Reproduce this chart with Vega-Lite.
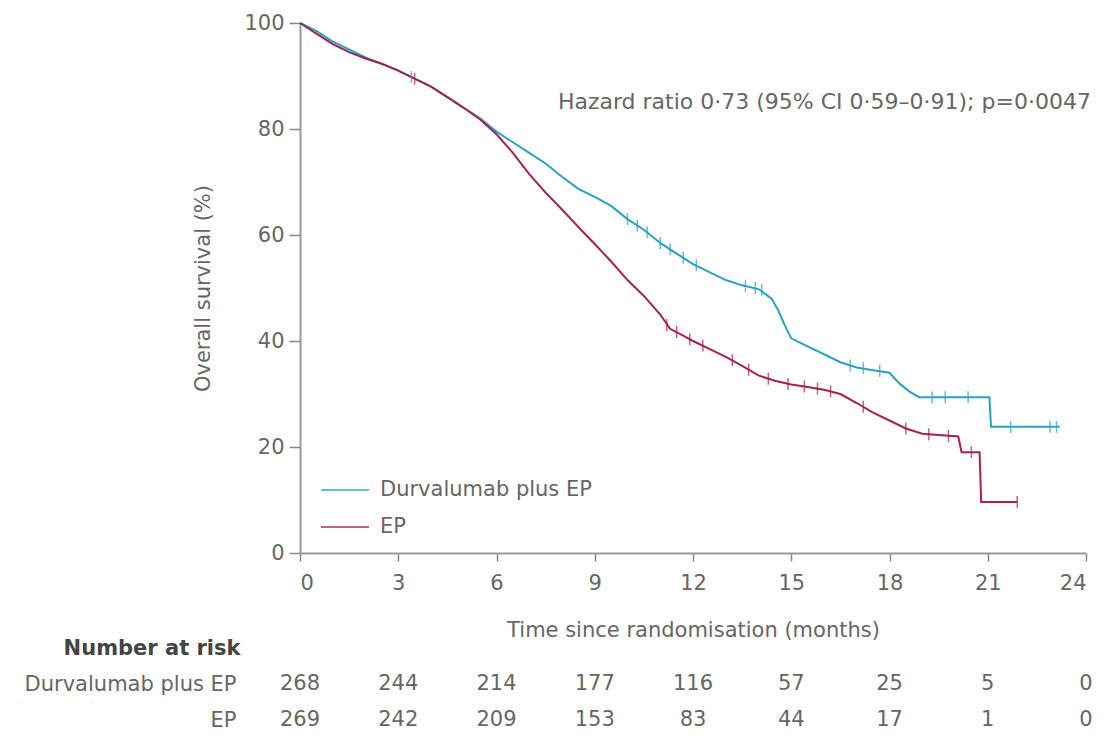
{
  "$schema": "https://vega.github.io/schema/vega-lite/v6.json",
  "padding": {"top": 12, "left": 24, "right": 5, "bottom": 4},
  "background": "white",
  "bounds": "flush",
  "spacing": 131,
  "config": {
    "view": {"stroke": null},
    "font": "DejaVu Sans",
    "axis": {"labelFont": "DejaVu Sans", "titleFont": "DejaVu Sans", "labelColor": "#666", "titleColor": "#666", "labelFontSize": 21, "titleFontSize": 21, "titleFontWeight": "normal", "domainColor": "#999", "tickColor": "#888", "domainWidth": 2, "tickWidth": 1.5, "grid": false},
    "legend": {"labelFont": "DejaVu Sans", "labelColor": "#666", "labelFontSize": 21}
  },
  "datasets": {
    "km": [
      {"arm": "Durvalumab plus EP", "month": 0, "surv": 100},
      {"arm": "Durvalumab plus EP", "month": 0.5, "surv": 98.5},
      {"arm": "Durvalumab plus EP", "month": 1.0, "surv": 96.5},
      {"arm": "Durvalumab plus EP", "month": 1.5, "surv": 95},
      {"arm": "Durvalumab plus EP", "month": 2.0, "surv": 93.5},
      {"arm": "Durvalumab plus EP", "month": 2.5, "surv": 92.3},
      {"arm": "Durvalumab plus EP", "month": 3.0, "surv": 91},
      {"arm": "Durvalumab plus EP", "month": 3.5, "surv": 89.5},
      {"arm": "Durvalumab plus EP", "month": 4.0, "surv": 88},
      {"arm": "Durvalumab plus EP", "month": 4.5, "surv": 86},
      {"arm": "Durvalumab plus EP", "month": 5.0, "surv": 84},
      {"arm": "Durvalumab plus EP", "month": 5.5, "surv": 82},
      {"arm": "Durvalumab plus EP", "month": 6.0, "surv": 79.5},
      {"arm": "Durvalumab plus EP", "month": 6.5, "surv": 77.5},
      {"arm": "Durvalumab plus EP", "month": 7.0, "surv": 75.5},
      {"arm": "Durvalumab plus EP", "month": 7.5, "surv": 73.5},
      {"arm": "Durvalumab plus EP", "month": 8.0, "surv": 71},
      {"arm": "Durvalumab plus EP", "month": 8.5, "surv": 68.7},
      {"arm": "Durvalumab plus EP", "month": 9.0, "surv": 67.2},
      {"arm": "Durvalumab plus EP", "month": 9.5, "surv": 65.5},
      {"arm": "Durvalumab plus EP", "month": 10.0, "surv": 63},
      {"arm": "Durvalumab plus EP", "month": 10.5, "surv": 61},
      {"arm": "Durvalumab plus EP", "month": 11.0, "surv": 58.5},
      {"arm": "Durvalumab plus EP", "month": 11.5, "surv": 56.5},
      {"arm": "Durvalumab plus EP", "month": 12.0, "surv": 54.5},
      {"arm": "Durvalumab plus EP", "month": 12.5, "surv": 53},
      {"arm": "Durvalumab plus EP", "month": 13.0, "surv": 51.5},
      {"arm": "Durvalumab plus EP", "month": 13.5, "surv": 50.5},
      {"arm": "Durvalumab plus EP", "month": 14.0, "surv": 49.8},
      {"arm": "Durvalumab plus EP", "month": 14.4, "surv": 48},
      {"arm": "Durvalumab plus EP", "month": 14.6, "surv": 45.8},
      {"arm": "Durvalumab plus EP", "month": 14.8, "surv": 43},
      {"arm": "Durvalumab plus EP", "month": 15.0, "surv": 40.5},
      {"arm": "Durvalumab plus EP", "month": 15.5, "surv": 39},
      {"arm": "Durvalumab plus EP", "month": 16.0, "surv": 37.5},
      {"arm": "Durvalumab plus EP", "month": 16.5, "surv": 36},
      {"arm": "Durvalumab plus EP", "month": 17.0, "surv": 35},
      {"arm": "Durvalumab plus EP", "month": 17.5, "surv": 34.5},
      {"arm": "Durvalumab plus EP", "month": 18.0, "surv": 34},
      {"arm": "Durvalumab plus EP", "month": 18.3, "surv": 32},
      {"arm": "Durvalumab plus EP", "month": 18.6, "surv": 30.5},
      {"arm": "Durvalumab plus EP", "month": 18.9, "surv": 29.4},
      {"arm": "Durvalumab plus EP", "month": 21.05, "surv": 29.4},
      {"arm": "Durvalumab plus EP", "month": 21.1, "surv": 23.8},
      {"arm": "Durvalumab plus EP", "month": 23.2, "surv": 23.8},
      {"arm": "EP", "month": 0, "surv": 100},
      {"arm": "EP", "month": 0.5, "surv": 98},
      {"arm": "EP", "month": 1.0, "surv": 96},
      {"arm": "EP", "month": 1.5, "surv": 94.5},
      {"arm": "EP", "month": 2.0, "surv": 93.3},
      {"arm": "EP", "month": 2.5, "surv": 92.3},
      {"arm": "EP", "month": 3.0, "surv": 91},
      {"arm": "EP", "month": 3.5, "surv": 89.5},
      {"arm": "EP", "month": 4.0, "surv": 88},
      {"arm": "EP", "month": 4.5, "surv": 86},
      {"arm": "EP", "month": 5.0, "surv": 84},
      {"arm": "EP", "month": 5.5, "surv": 81.8},
      {"arm": "EP", "month": 6.0, "surv": 79},
      {"arm": "EP", "month": 6.5, "surv": 75.5},
      {"arm": "EP", "month": 7.0, "surv": 71.5},
      {"arm": "EP", "month": 7.5, "surv": 68},
      {"arm": "EP", "month": 8.0, "surv": 64.8},
      {"arm": "EP", "month": 8.5, "surv": 61.5},
      {"arm": "EP", "month": 9.0, "surv": 58.3},
      {"arm": "EP", "month": 9.5, "surv": 55},
      {"arm": "EP", "month": 10.0, "surv": 51.5},
      {"arm": "EP", "month": 10.5, "surv": 48.5},
      {"arm": "EP", "month": 11.0, "surv": 45},
      {"arm": "EP", "month": 11.3, "surv": 42.3},
      {"arm": "EP", "month": 11.7, "surv": 41},
      {"arm": "EP", "month": 12.0, "surv": 40},
      {"arm": "EP", "month": 12.5, "surv": 38.5},
      {"arm": "EP", "month": 13.0, "surv": 37},
      {"arm": "EP", "month": 13.5, "surv": 35.3},
      {"arm": "EP", "month": 14.0, "surv": 33.5},
      {"arm": "EP", "month": 14.5, "surv": 32.5},
      {"arm": "EP", "month": 15.0, "surv": 31.8},
      {"arm": "EP", "month": 15.5, "surv": 31.3},
      {"arm": "EP", "month": 16.0, "surv": 30.8},
      {"arm": "EP", "month": 16.5, "surv": 30},
      {"arm": "EP", "month": 17.0, "surv": 28.3},
      {"arm": "EP", "month": 17.5, "surv": 26.5},
      {"arm": "EP", "month": 18.0, "surv": 25},
      {"arm": "EP", "month": 18.5, "surv": 23.5},
      {"arm": "EP", "month": 19.0, "surv": 22.5},
      {"arm": "EP", "month": 20.1, "surv": 22},
      {"arm": "EP", "month": 20.2, "surv": 19},
      {"arm": "EP", "month": 20.75, "surv": 19},
      {"arm": "EP", "month": 20.8, "surv": 9.6},
      {"arm": "EP", "month": 21.9, "surv": 9.6}
    ],
    "censor": [
      {"arm": "Durvalumab plus EP", "month": 3.4, "surv": 89.8},
      {"arm": "Durvalumab plus EP", "month": 10.0, "surv": 63},
      {"arm": "Durvalumab plus EP", "month": 10.3, "surv": 61.8},
      {"arm": "Durvalumab plus EP", "month": 10.6, "surv": 60.5},
      {"arm": "Durvalumab plus EP", "month": 11.0, "surv": 58.5},
      {"arm": "Durvalumab plus EP", "month": 11.3, "surv": 57.3},
      {"arm": "Durvalumab plus EP", "month": 11.7, "surv": 55.7},
      {"arm": "Durvalumab plus EP", "month": 12.1, "surv": 54.3},
      {"arm": "Durvalumab plus EP", "month": 13.6, "surv": 50.4},
      {"arm": "Durvalumab plus EP", "month": 13.9, "surv": 50},
      {"arm": "Durvalumab plus EP", "month": 14.1, "surv": 49.6},
      {"arm": "Durvalumab plus EP", "month": 16.8, "surv": 35.4},
      {"arm": "Durvalumab plus EP", "month": 17.2, "surv": 34.9},
      {"arm": "Durvalumab plus EP", "month": 17.7, "surv": 34.4},
      {"arm": "Durvalumab plus EP", "month": 19.3, "surv": 29.4},
      {"arm": "Durvalumab plus EP", "month": 19.7, "surv": 29.4},
      {"arm": "Durvalumab plus EP", "month": 20.4, "surv": 29.4},
      {"arm": "Durvalumab plus EP", "month": 21.7, "surv": 23.8},
      {"arm": "Durvalumab plus EP", "month": 22.9, "surv": 23.8},
      {"arm": "Durvalumab plus EP", "month": 23.1, "surv": 23.8},
      {"arm": "EP", "month": 3.5, "surv": 89.5},
      {"arm": "EP", "month": 11.2, "surv": 43},
      {"arm": "EP", "month": 11.5, "surv": 41.7},
      {"arm": "EP", "month": 11.9, "surv": 40.3},
      {"arm": "EP", "month": 12.3, "surv": 39.1},
      {"arm": "EP", "month": 13.2, "surv": 36.4},
      {"arm": "EP", "month": 13.7, "surv": 34.6},
      {"arm": "EP", "month": 14.3, "surv": 32.9},
      {"arm": "EP", "month": 14.9, "surv": 31.9},
      {"arm": "EP", "month": 15.4, "surv": 31.4},
      {"arm": "EP", "month": 15.8, "surv": 31},
      {"arm": "EP", "month": 16.2, "surv": 30.5},
      {"arm": "EP", "month": 17.2, "surv": 27.6},
      {"arm": "EP", "month": 18.5, "surv": 23.5},
      {"arm": "EP", "month": 19.2, "surv": 22.4},
      {"arm": "EP", "month": 19.8, "surv": 22.1},
      {"arm": "EP", "month": 20.5, "surv": 19},
      {"arm": "EP", "month": 21.9, "surv": 9.6}
    ],
    "risk": [
      {"arm": "Durvalumab plus EP", "month": 0, "n": 268},
      {"arm": "Durvalumab plus EP", "month": 3, "n": 244},
      {"arm": "Durvalumab plus EP", "month": 6, "n": 214},
      {"arm": "Durvalumab plus EP", "month": 9, "n": 177},
      {"arm": "Durvalumab plus EP", "month": 12, "n": 116},
      {"arm": "Durvalumab plus EP", "month": 15, "n": 57},
      {"arm": "Durvalumab plus EP", "month": 18, "n": 25},
      {"arm": "Durvalumab plus EP", "month": 21, "n": 5},
      {"arm": "Durvalumab plus EP", "month": 24, "n": 0},
      {"arm": "EP", "month": 0, "n": 269},
      {"arm": "EP", "month": 3, "n": 242},
      {"arm": "EP", "month": 6, "n": 209},
      {"arm": "EP", "month": 9, "n": 153},
      {"arm": "EP", "month": 12, "n": 83},
      {"arm": "EP", "month": 15, "n": 44},
      {"arm": "EP", "month": 18, "n": 17},
      {"arm": "EP", "month": 21, "n": 1},
      {"arm": "EP", "month": 24, "n": 0}
    ]
  },
  "vconcat": [
    {
      "width": 786,
      "height": 530,
      "layer": [
        {
          "data": {"name": "km"},
          "mark": {"type": "line", "strokeWidth": 2, "interpolate": "linear"},
          "encoding": {
            "x": {"field": "month", "type": "quantitative", "scale": {"domain": [0, 24], "nice": false},
                  "axis": {"values": [0, 3, 6, 9, 12, 15, 18, 21, 24], "title": "Time since randomisation (months)", "tickSize": 8, "labelPadding": 11, "titlePadding": 26}},
            "y": {"field": "surv", "type": "quantitative", "scale": {"domain": [0, 100], "nice": false},
                  "axis": {"values": [0, 20, 40, 60, 80, 100], "title": "Overall survival (%)", "tickSize": 11, "labelPadding": 5, "titlePadding": 30}},
            "color": {"field": "arm", "type": "nominal",
                      "scale": {"domain": ["Durvalumab plus EP", "EP"], "range": ["#27a4c2", "#a8214f"]},
                      "legend": {"title": null, "orient": "none", "legendX": 20, "legendY": 442, "symbolType": "stroke", "symbolSize": 2300, "symbolStrokeWidth": 2, "rowPadding": 2, "labelOffset": 10, "labelLimit": 500}}
          }
        },
        {
          "data": {"name": "censor"},
          "mark": {"type": "tick", "orient": "vertical", "size": 12, "thickness": 1.5},
          "encoding": {
            "x": {"field": "month", "type": "quantitative"},
            "y": {"field": "surv", "type": "quantitative"},
            "color": {"field": "arm", "type": "nominal"}
          }
        },
        {
          "data": {"values": [{}]},
          "mark": {"type": "text", "align": "right", "baseline": "middle", "fontSize": 22, "color": "#666", "text": "Hazard ratio 0·73 (95% CI 0·59–0·91); p=0·0047"},
          "encoding": {
            "x": {"datum": 24.15},
            "y": {"datum": 85.1}
          }
        }
      ]
    },
    {
      "width": 786,
      "height": 36,
      "data": {"name": "risk"},
      "mark": {"type": "text", "fontSize": 21, "color": "#666", "baseline": "middle"},
      "encoding": {
        "x": {"field": "month", "type": "quantitative", "scale": {"domain": [0, 24], "nice": false}, "axis": null},
        "y": {"field": "arm", "type": "nominal", "sort": ["Durvalumab plus EP", "EP"], "scale": {"type": "point", "padding": 0},
              "axis": {"title": "Number at risk", "titleAngle": 0, "titleAlign": "right", "titleBaseline": "middle", "titleX": -60, "titleY": -36, "titleFontWeight": "bold", "titleColor": "#444", "domain": false, "ticks": false, "labelPadding": 64, "labelFontSize": 21, "labelColor": "#666", "labelLimit": 500}},
        "text": {"field": "n", "type": "quantitative"}
      }
    }
  ]
}
